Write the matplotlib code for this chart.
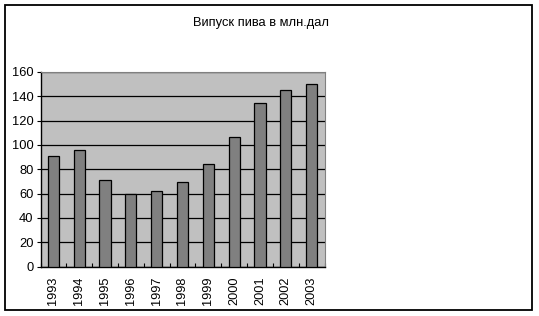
import matplotlib
matplotlib.use("Agg")
import matplotlib.pyplot as plt
from matplotlib.patches import Rectangle
import numpy as np

years = ["1993", "1994", "1995", "1996", "1997", "1998", "1999", "2000", "2001", "2002", "2003"]
values = [91, 95.5, 70.8, 59.4, 61.8, 69.7, 84.0, 106.9, 134.8, 145.5, 150.4]
title = "Випуск пива в млн.дал"
yticks = [0, 20, 40, 60, 80, 100, 120, 140, 160]

plt.rcParams['font.family'] = ['Liberation Sans', 'DejaVu Sans']
W, H = 539, 316
fig = plt.figure(figsize=(W / 100, H / 100), dpi=100)
fig.patch.set_facecolor('white')

# outer border
fig.patches.append(Rectangle((5 / W, 1 - 310 / H), (532 - 5) / W, (310 - 5) / H,
                             transform=fig.transFigure, fill=False, edgecolor='black',
                             linewidth=1.3))

left, right, top, bottom = 40.5, 324.5, 72, 266.5
ax = fig.add_axes([left / W, 1 - bottom / H, (right - left) / W, (bottom - top) / H])
ax.set_facecolor('#C0C0C0')

x = np.arange(len(years))
ax.bar(x, values, width=0.43, color='#808080', edgecolor='black', linewidth=0.9, zorder=3)
ax.set_xlim(-0.5, len(years) - 0.5)
ax.set_ylim(0, 160)
ax.set_yticks(yticks)
ax.set_yticklabels([str(v) for v in yticks], fontsize=9.3)
ax.yaxis.grid(True, color='black', linewidth=0.9, zorder=1)
ax.set_axisbelow(True)

ax.set_xticks(x)
ax.set_xticklabels(years, rotation=90, fontsize=9.2)
ax.tick_params(axis='x', length=0, pad=7)
ax.set_xticks(np.arange(-0.5, len(years)), minor=True)
ax.tick_params(axis='x', which='minor', direction='in', length=3, width=0.8)
ax.tick_params(axis='y', direction='out', length=3, width=0.8, pad=2)

for s in ['top', 'right']:
    ax.spines[s].set_color('#808080')
    ax.spines[s].set_linewidth(0.8)
for s in ['left', 'bottom']:
    ax.spines[s].set_color('black')
    ax.spines[s].set_linewidth(1.0)

fig.text(261 / W, 1 - 23 / H, title, ha='center', va='center', fontsize=9.3)

fig.savefig("out.png", dpi=100)
